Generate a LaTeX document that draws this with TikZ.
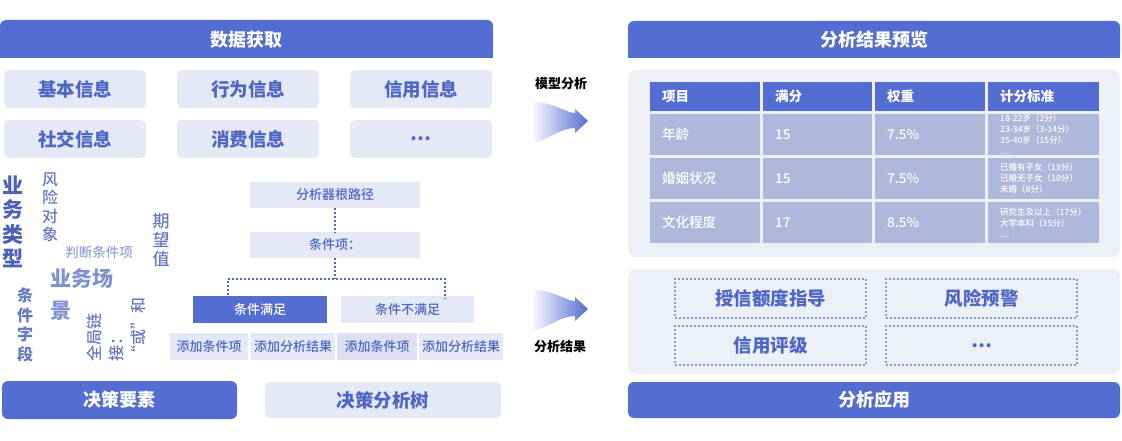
\documentclass[tikz,border=0pt]{standalone}
\usepackage{fontspec}
\setmainfont{Noto Sans CJK SC}
\newfontfamily\medfont{Noto Sans CJK SC Medium}
\definecolor{mainblue}{HTML}{546DD2}
\definecolor{lightbox}{HTML}{E5E8F5}
\definecolor{darkbox}{HTML}{DCE0F2}
\definecolor{txtblue}{HTML}{4E66C6}
\definecolor{panelbg}{HTML}{EDF0F7}
\definecolor{cellbg}{HTML}{AFB8DB}
\definecolor{dotblue}{HTML}{8C99CF}
\definecolor{arrowlight}{HTML}{F4F5FC}
\definecolor{wcdark}{HTML}{4C62B8}
\definecolor{wcmid}{HTML}{6679C0}
\definecolor{wclight}{HTML}{93A2D8}
\definecolor{wcsoft}{HTML}{7F92CE}
\tikzset{
  hdrtext/.style={text=white,font=\bfseries\fontsize{18}{20}\selectfont},
  infobox/.style={fill=lightbox,rounded corners=5pt,minimum width=142,minimum height=38,
    text=txtblue,font=\bfseries\fontsize{18.5}{20}\selectfont},
  treebox/.style={fill=lightbox,minimum width=170,minimum height=26,text=txtblue,
    font=\medfont\fontsize{13}{15}\selectfont},
  leafbox/.style={treebox,minimum height=27},
  treeline/.style={txtblue,line width=2pt,dash pattern=on 2pt off 2pt},
  wc/.style={inner sep=0pt,align=center},
  thcell/.style={fill=mainblue,text=white,minimum height=29,text width=86,inner xsep=12pt,
    inner ysep=0pt,align=left,font=\bfseries\fontsize{13.5}{15}\selectfont},
  tdcell/.style={thcell,fill=cellbg,minimum height=41,font=\medfont\fontsize{13.5}{15}\selectfont},
  rulecell/.style={tdcell,font=\medfont\fontsize{8.5}{11}\selectfont},
  appbox/.style={draw=dotblue,line width=2pt,dash pattern=on 2pt off 2pt,fill=panelbg,
    minimum width=191,minimum height=39,text=txtblue,font=\bfseries\fontsize{18.5}{20}\selectfont},
  lbl/.style={font=\bfseries\fontsize{13}{15}\selectfont}
}
\begin{document}
\begin{tikzpicture}[x=1pt,y=-1pt]
  \useasboundingbox (0,0) rectangle (1122,441);
  % left column: data
  \fill[mainblue,rounded corners=6pt] (0,20) rectangle (493,58);
  \fill[mainblue] (0,40) rectangle (493,58);
  \node[hdrtext] (shuju) at (246.5,40) {数据获取};
  \node[infobox] (jiben) at (75,89) {基本信息};
  \node[infobox] (xingwei) at (248,89) {行为信息};
  \node[infobox] (xinyong) at (421,89) {信用信息};
  \node[infobox] (shejiao) at (75,139) {社交信息};
  \node[infobox] (xiaofei) at (248,139) {消费信息};
  \node[infobox] (gengduo) at (421,139) {…};
  % word cloud
  \node[wc,text=wcdark,font=\bfseries\fontsize{21}{24.5}\selectfont] (leixing) at (13,222) {业\\务\\类\\型};
  \node[wc,text=wcmid,font=\medfont\fontsize{16}{18.5}\selectfont] (duixiang) at (50,207) {风\\险\\对\\象};
  \node[wc,text=wclight,font=\medfont\fontsize{13.5}{15}\selectfont] (panduan) at (99,252) {判断条件项};
  \node[wc,text=wcmid,font=\medfont\fontsize{17}{19}\selectfont] (qiwang) at (161,240) {期\\望\\值};
  \node[wc,text=wcsoft,align=left,anchor=north west,font=\bfseries\fontsize{21}{32}\selectfont] (changjing) at (50,268) {业务场\\景};
  \node[wc,text=wcmid,font=\bfseries\fontsize{16}{19.5}\selectfont] (ziduan) at (25,325) {条\\件\\字\\段};
  \node[wc,text=wcmid,align=left,rotate=90,anchor=north west,font=\medfont\fontsize{16}{22}\selectfont] (lianjie) at (87,362) {全局链\\接：\\“或”和};
  % decision tree
  \node[treebox] (genlu) at (335,194.5) {分析器根路径};
  \node[treebox] (tiaojian) at (335,245) {条件项：};
  \node[treebox,minimum width=134,minimum height=27,fill=mainblue,text=white] (manzu) at (260,309.5) {条件满足};
  \node[treebox,minimum width=133,minimum height=27] (bumanzu) at (407.5,309.5) {条件不满足};
  \node[leafbox,minimum width=78] (tjA) at (209,346.5) {添加条件项};
  \node[leafbox,minimum width=80] (jgA) at (293,346.5) {添加分析结果};
  \node[leafbox,minimum width=80,fill=darkbox] (tjB) at (377,346.5) {添加条件项};
  \node[leafbox,minimum width=79] (jgB) at (461,346.5) {添加分析结果};
  \coordinate (jl) at (228,279);
  \coordinate (jr) at (445,279);
  \draw[treeline] (genlu) -- (tiaojian);
  \draw[treeline] (tiaojian) -- (tiaojian.south |- jl);
  \draw[treeline] ([yshift=-3pt]jl |- manzu.north) -- (jl) -- (jr) -- ([yshift=-3pt]jr |- bumanzu.north);
  % bottom left
  \node[fill=mainblue,rounded corners=6pt,minimum width=235,minimum height=38,hdrtext] (yaosu) at (119.5,400) {决策要素};
  \node[infobox,rounded corners=6pt,minimum width=236,minimum height=36] (fenxishu) at (383,400) {决策分析树};
  % arrows
  \foreach \ay in {0,188}
    \shade[left color=arrowlight,right color=mainblue]
      (534,102+\ay) .. controls (556,103+\ay) and (566,113+\ay) .. (575,113+\ay)
      -- (575,109+\ay) -- (588,121+\ay) -- (575,133+\ay) -- (575,128+\ay)
      .. controls (562,128+\ay) and (550,138+\ay) .. (534,143+\ay) -- cycle;
  \node[lbl] (moxing) at (561,84) {模型分析};
  \node[lbl] (jieguo) at (560,347) {分析结果};
  % right column: preview
  \fill[mainblue,rounded corners=6pt] (628,21) rectangle (1120,58);
  \fill[mainblue] (628,40) rectangle (1120,58);
  \node[hdrtext] (yulan) at (874,40) {分析结果预览};
  \fill[panelbg,rounded corners=8pt] (628,70) rectangle (1120,257);
  \node[thcell,text width=86,anchor=north west] (h1) at (650,82) {项目};
  \node[thcell,text width=85,anchor=north west] (h2) at (763,82) {满分};
  \node[thcell,text width=86,anchor=north west] (h3) at (875,82) {权重};
  \node[thcell,text width=87,anchor=north west] (h4) at (988,82) {计分标准};
  \node[tdcell,anchor=north west] (a1) at (650,114) {年龄};
  \node[tdcell,text width=85,anchor=north west] (a2) at (763,114) {15};
  \node[tdcell,anchor=north west] (a3) at (875,114) {7.5\%};
  \node[rulecell,text width=87,anchor=north west] (a4) at (988,114) {18-22岁（2分）\\23-34岁（3-14分）\\35-40岁（15分）\\…};
  \node[tdcell,anchor=north west] (b1) at (650,158) {婚姻状况};
  \node[tdcell,text width=85,anchor=north west] (b2) at (763,158) {15};
  \node[tdcell,anchor=north west] (b3) at (875,158) {7.5\%};
  \node[rulecell,text width=87,anchor=north west] (b4) at (988,158) {已婚有子女（15分）\\已婚无子女（10分）\\未婚（8分）};
  \node[tdcell,anchor=north west] (c1) at (650,202) {文化程度};
  \node[tdcell,text width=85,anchor=north west] (c2) at (763,202) {17};
  \node[tdcell,anchor=north west] (c3) at (875,202) {8.5\%};
  \node[rulecell,text width=87,anchor=north west] (c4) at (988,202) {研究生及以上（17分）\\大学本科（15分）\\…};
  % right column: application
  \fill[panelbg,rounded corners=8pt] (628,269) rectangle (1120,374);
  \node[appbox] (shouxin) at (770.5,298.5) {授信额度指导};
  \node[appbox] (fengxian) at (981.5,298.5) {风险预警};
  \node[appbox] (pingji) at (770.5,345.5) {信用评级};
  \node[appbox] (qita) at (981.5,345.5) {…};
  \node[fill=mainblue,rounded corners=6pt,minimum width=492,minimum height=36,hdrtext] (yingyong) at (874,400) {分析应用};
\end{tikzpicture}
\end{document}
